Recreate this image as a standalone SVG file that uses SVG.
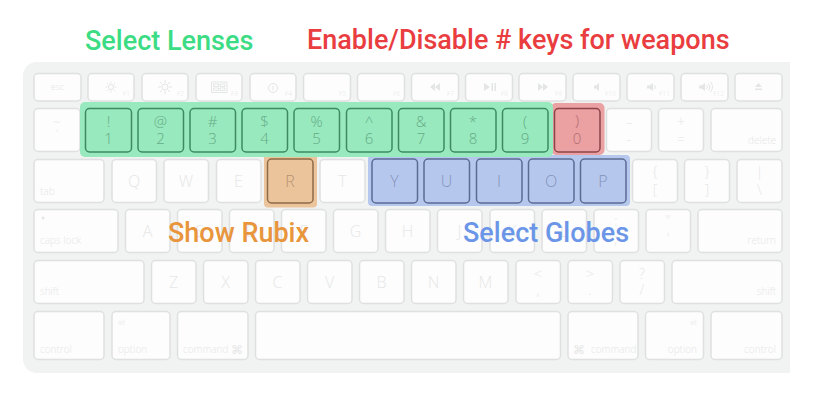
<svg xmlns="http://www.w3.org/2000/svg" width="816" height="400" viewBox="0 0 816 400">
<style>
text{font-family:"Open Sans","Liberation Sans","DejaVu Sans",sans-serif;font-weight:300}
.k{fill:#fdfdfd;stroke:#dfe0e0;stroke-width:1.500}
.t{fill:#e6e7e7;text-anchor:middle;font-size:16px}
.n{fill:#e6e7e7;text-anchor:middle;font-size:14px}
.s{fill:#e6e7e7;font-size:10px}
.e{text-anchor:end}
.f{fill:#e8e9e9;font-size:6.500px;text-anchor:end}
.i{fill:#e4e5e5;stroke:none}
.il{fill:none;stroke:#e4e5e5;stroke-width:1}
.h{font-family:Roboto,"Liberation Sans",sans-serif;font-weight:500;font-size:27px}
.gk{fill:none;stroke:#3d8a62;stroke-width:1.500}
.bk{fill:none;stroke:#5b6b92;stroke-width:1.500}
.ok{fill:none;stroke:#8f6b45;stroke-width:1.500}
.rk{fill:none;stroke:#8b4448;stroke-width:1.500}
.gt{fill:#66ab88;text-anchor:middle;font-size:15px}
.bt{fill:#8494b8;text-anchor:middle;font-size:16px}
.ot{fill:#b5926f;text-anchor:middle;font-size:16px}
.rt{fill:#b06d70;text-anchor:middle;font-size:15px}
</style>
<rect width="816" height="400" fill="#fff"/>
<path id="body" d="M37 62H790V373H37A14 14 0 0 1 23 359V76A14 14 0 0 1 37 62Z" fill="#f1f2f2"/>
<g id="fn-row">
<rect class="k" x="34" y="73.500" width="47" height="27.500" rx="4"/><rect class="k" x="88" y="73.500" width="46" height="27.500" rx="4"/><rect class="k" x="142" y="73.500" width="46" height="27.500" rx="4"/><rect class="k" x="196" y="73.500" width="46" height="27.500" rx="4"/><rect class="k" x="250" y="73.500" width="46" height="27.500" rx="4"/><rect class="k" x="303.500" y="73.500" width="47" height="27.500" rx="4"/><rect class="k" x="357.500" y="73.500" width="47" height="27.500" rx="4"/><rect class="k" x="411.500" y="73.500" width="47" height="27.500" rx="4"/><rect class="k" x="465.500" y="73.500" width="47" height="27.500" rx="4"/><rect class="k" x="519" y="73.500" width="47" height="27.500" rx="4"/><rect class="k" x="573" y="73.500" width="47" height="27.500" rx="4"/><rect class="k" x="627" y="73.500" width="47" height="27.500" rx="4"/><rect class="k" x="681" y="73.500" width="47" height="27.500" rx="4"/><rect class="k" x="735" y="73.500" width="47" height="27.500" rx="4"/>
<text x="57.500" y="90" style="font-size:9px;fill:#e6e7e7;text-anchor:middle">esc</text>
<text class="f" x="130" y="96">F1</text><text class="f" x="184" y="96">F2</text><text class="f" x="238" y="96">F3</text><text class="f" x="292" y="96">F4</text><text class="f" x="346" y="96">F5</text><text class="f" x="400" y="96">F6</text><text class="f" x="454" y="96">F7</text><text class="f" x="508" y="96">F8</text><text class="f" x="562" y="96">F9</text><text class="f" x="616" y="96">F10</text><text class="f" x="670" y="96">F11</text><text class="f" x="724" y="96">F12</text>
<circle class="il" cx="111" cy="87" r="2.500"/><path class="il" d="M111 81.500v2M111 90.500v2M105.500 87h2M114.500 87h2M107 83l1.400 1.400M113.600 89.600l1.400 1.400M107 91l1.400-1.400M113.600 84.400l1.400-1.400"/>
<circle class="il" cx="165" cy="87" r="3"/><path class="il" d="M165 80v3M165 91v3M158 87h3M169 87h3M160 82l2 2M168 90l2 2M160 92l2-2M168 84l2-2"/>
<path class="il" d="M211.500 82h15.500v10.500h-15.500zM213.500 84h5v2.500h-5zM220 84h5v2.500h-5zM213.500 88h5v2.500h-5zM220 88h5v2.500h-5z"/>
<circle class="il" cx="273" cy="88" r="4.500"/><path class="il" d="M273 86v4.500"/>
<path class="i" d="M430 87l5-4v8zM435 87l5-4v8z"/><path class="i" d="M484 83l6 4-6 4zM491.500 83h1.500v8h-1.500zM494.500 83h1.500v8h-1.500z"/><path class="i" d="M538 83l5 4-5 4zM543 83l5 4-5 4z"/>
<path class="i" d="M594 85.500h2l3-2.500v8l-3-2.500h-2z"/><path class="i" d="M647 85.500h2.500l3.500-2.500v8l-3.500-2.500h-2.500z"/><path class="il" d="M654.500 85c1 1.300 1 2.700 0 4"/>
<path class="i" d="M699 85.500h2.500l3.500-2.500v8l-3.500-2.500h-2.500z"/><path class="il" d="M706.500 85c1 1.300 1 2.700 0 4M708.500 83.500c1.800 2.300 1.800 4.700 0 7M710.500 82c2.600 3 2.600 7 0 10"/>
<path class="i" d="M758.500 83l3.500 4h-7zM755 88.500h7v1.500h-7z"/>
</g>
<g id="number-row">
<rect class="k" x="34" y="108.500" width="46" height="43" rx="4"/><rect class="k" x="606.500" y="108.500" width="45" height="43" rx="4"/><rect class="k" x="658.500" y="108.500" width="45" height="43" rx="4"/><rect class="k" x="711" y="108.500" width="71" height="43" rx="4"/>
<text class="n" x="57" y="127">~</text><text class="n" x="57" y="141">`</text>
<text class="n" x="629" y="127">–</text><text class="n" x="629" y="144">-</text>
<text class="n" x="681" y="127">+</text><text class="n" x="681" y="144">=</text>
<text class="s e" x="776" y="144">delete</text>
</g>
<g id="letter-row-1">
<rect class="k" x="34" y="159.500" width="70" height="43" rx="4"/><rect class="k" x="112" y="159.500" width="44.500" height="43" rx="4"/><rect class="k" x="164" y="159.500" width="44.500" height="43" rx="4"/><rect class="k" x="216.500" y="159.500" width="44.500" height="43" rx="4"/><rect class="k" x="320" y="159.500" width="45" height="43" rx="4"/><rect class="k" x="632.500" y="159.500" width="45" height="43" rx="4"/><rect class="k" x="684.500" y="159.500" width="45" height="43" rx="4"/><rect class="k" x="737" y="159.500" width="45" height="43" rx="4"/>
<text class="s" x="40" y="195">tab</text>
<text class="t" x="134" y="187">Q</text><text class="t" x="186" y="187">W</text><text class="t" x="238.500" y="187">E</text><text class="t" x="342.500" y="187">T</text>
<text class="n" x="655" y="177">{</text><text class="n" x="655" y="195">[</text><text class="n" x="707" y="177">}</text><text class="n" x="707" y="195">]</text><text class="n" x="759.500" y="177">|</text><text class="n" x="759.500" y="195">\</text>
</g>
<g id="letter-row-2">
<rect class="k" x="34" y="209.500" width="84" height="43" rx="4"/><rect class="k" x="125.500" y="209.500" width="44.500" height="43" rx="4"/><rect class="k" x="177.500" y="209.500" width="44.500" height="43" rx="4"/><rect class="k" x="229.500" y="209.500" width="44.500" height="43" rx="4"/><rect class="k" x="281.500" y="209.500" width="44.500" height="43" rx="4"/><rect class="k" x="333.500" y="209.500" width="44.500" height="43" rx="4"/><rect class="k" x="385.500" y="209.500" width="44.500" height="43" rx="4"/><rect class="k" x="437.500" y="209.500" width="44.500" height="43" rx="4"/><rect class="k" x="490" y="209.500" width="44.500" height="43" rx="4"/><rect class="k" x="542" y="209.500" width="44.500" height="43" rx="4"/><rect class="k" x="594" y="209.500" width="44.500" height="43" rx="4"/><rect class="k" x="646" y="209.500" width="44.500" height="43" rx="4"/><rect class="k" x="698" y="209.500" width="84" height="43" rx="4"/>
<circle class="i" cx="43" cy="218" r="1.500"/>
<text class="s" x="40" y="244">caps lock</text>
<text class="t" x="147.500" y="237">A</text><text class="t" x="199.500" y="237">S</text><text class="t" x="251.500" y="237">D</text><text class="t" x="303.500" y="237">F</text><text class="t" x="355.500" y="237">G</text><text class="t" x="407.500" y="237">H</text><text class="t" x="459.500" y="237">J</text><text class="t" x="512" y="237">K</text><text class="t" x="564" y="237">L</text>
<text class="n" x="616" y="226">:</text><text class="n" x="616" y="244">;</text><text class="n" x="668" y="226">"</text><text class="n" x="668" y="244">'</text>
<text class="s e" x="776" y="244">return</text>
</g>
<g id="letter-row-3">
<rect class="k" x="34" y="260.500" width="110" height="43" rx="4"/><rect class="k" x="151.500" y="260.500" width="44.500" height="43" rx="4"/><rect class="k" x="203.500" y="260.500" width="44.500" height="43" rx="4"/><rect class="k" x="255.500" y="260.500" width="44.500" height="43" rx="4"/><rect class="k" x="307.500" y="260.500" width="44.500" height="43" rx="4"/><rect class="k" x="359.500" y="260.500" width="44.500" height="43" rx="4"/><rect class="k" x="411.500" y="260.500" width="44.500" height="43" rx="4"/><rect class="k" x="463.500" y="260.500" width="44.500" height="43" rx="4"/><rect class="k" x="516" y="260.500" width="44.500" height="43" rx="4"/><rect class="k" x="568" y="260.500" width="44.500" height="43" rx="4"/><rect class="k" x="620" y="260.500" width="44.500" height="43" rx="4"/><rect class="k" x="672" y="260.500" width="110" height="43" rx="4"/>
<text class="s" x="40" y="295">shift</text><text class="s e" x="776" y="295">shift</text>
<text class="t" x="173.500" y="288">Z</text><text class="t" x="225.500" y="288">X</text><text class="t" x="277.500" y="288">C</text><text class="t" x="329.500" y="288">V</text><text class="t" x="381.500" y="288">B</text><text class="t" x="433.500" y="288">N</text><text class="t" x="485.500" y="288">M</text>
<text class="n" x="538" y="279">&lt;</text><text class="n" x="538" y="295">,</text><text class="n" x="590" y="279">&gt;</text><text class="n" x="590" y="295">.</text><text class="n" x="642" y="279">?</text><text class="n" x="642" y="295">/</text>
</g>
<g id="bottom-row">
<rect class="k" x="34" y="311.500" width="70" height="48" rx="4"/><rect class="k" x="112" y="311.500" width="58" height="48" rx="4"/><rect class="k" x="177.500" y="311.500" width="70.500" height="48" rx="4"/><rect class="k" x="255.500" y="311.500" width="305" height="48" rx="4"/><rect class="k" x="568" y="311.500" width="70" height="48" rx="4"/><rect class="k" x="645.500" y="311.500" width="58" height="48" rx="4"/><rect class="k" x="711" y="311.500" width="71" height="48" rx="4"/>
<text class="s" x="40" y="353">control</text><text x="118" y="325" style="font-size:6.500px;fill:#e6e7e7">alt</text><text class="s" x="118" y="353">option</text><text class="s" x="183" y="353">command</text><text x="231" y="354" style="font-family:'DejaVu Sans',sans-serif;font-size:12px;fill:#e6e7e7">⌘</text>
<text x="573" y="354" style="font-family:'DejaVu Sans',sans-serif;font-size:12px;fill:#e6e7e7">⌘</text><text class="s" x="591" y="353">command</text><text x="697" y="325" class="e" style="font-size:6.500px;fill:#e6e7e7">alt</text><text class="s e" x="697" y="353">option</text><text class="s e" x="776" y="353">control</text>
</g>
<g id="show-rubix-zone">
<rect x="264" y="150" width="53" height="57.500" rx="4" fill="#ebc49c"/>
<rect class="ok" x="267.500" y="159" width="45.500" height="44" rx="4"/>
<text class="ot" x="290" y="187">R</text>
</g>
<g id="select-globes-zone">
<rect x="368" y="155" width="262" height="51" rx="4" fill="#b6c7ee"/>
<rect class="bk" x="372" y="159" width="45.500" height="44" rx="4"/><rect class="bk" x="424" y="159" width="45.500" height="44" rx="4"/><rect class="bk" x="476.500" y="159" width="45.500" height="44" rx="4"/><rect class="bk" x="528.500" y="159" width="45.500" height="44" rx="4"/><rect class="bk" x="580.500" y="159" width="45.500" height="44" rx="4"/>
<text class="bt" x="394.500" y="187">Y</text><text class="bt" x="446.500" y="187">U</text><text class="bt" x="499" y="187">I</text><text class="bt" x="551" y="187">O</text><text class="bt" x="603" y="187">P</text>
</g>
<g id="enable-disable-zone">
<rect x="551" y="103" width="53.500" height="52" rx="5" fill="#eba0a2"/>
<rect class="rk" x="554.500" y="108.500" width="45.500" height="43.500" rx="4"/>
<text class="rt" x="577" y="126">)</text><text class="rt" x="577" y="144">0</text>
</g>
<g id="select-lenses-zone">
<rect x="80" y="102" width="473" height="55" rx="5" fill="#98e9bd"/>
<rect class="gk" x="85.500" y="108.500" width="46" height="43.500" rx="4"/><rect class="gk" x="138" y="108.500" width="45.500" height="43.500" rx="4"/><rect class="gk" x="190" y="108.500" width="45.500" height="43.500" rx="4"/><rect class="gk" x="242" y="108.500" width="45.500" height="43.500" rx="4"/><rect class="gk" x="294" y="108.500" width="45.500" height="43.500" rx="4"/><rect class="gk" x="346.500" y="108.500" width="45.500" height="43.500" rx="4"/><rect class="gk" x="398.500" y="108.500" width="45.500" height="43.500" rx="4"/><rect class="gk" x="450.500" y="108.500" width="45.500" height="43.500" rx="4"/><rect class="gk" x="502.500" y="108.500" width="45.500" height="43.500" rx="4"/>
<text class="gt" x="108.500" y="127">!</text><text class="gt" x="108.500" y="144">1</text><text class="gt" x="160.500" y="127">@</text><text class="gt" x="160.500" y="144">2</text><text class="gt" x="212.500" y="127">#</text><text class="gt" x="212.500" y="144">3</text><text class="gt" x="264.500" y="127">$</text><text class="gt" x="264.500" y="144">4</text><text class="gt" x="316.500" y="127">%</text><text class="gt" x="316.500" y="144">5</text><text class="gt" x="369" y="127">^</text><text class="gt" x="369" y="144">6</text><text class="gt" x="421" y="127">&amp;</text><text class="gt" x="421" y="144">7</text><text class="gt" x="473" y="127">*</text><text class="gt" x="473" y="144">8</text><text class="gt" x="525" y="127">(</text><text class="gt" x="525" y="144">9</text>
</g>
<g id="labels">
<text class="h" x="85" y="50" fill="#3bdc83">Select Lenses</text>
<text class="h" x="307" y="49" fill="#e93d40">Enable/Disable # keys for weapons</text>
<text class="h" x="168" y="242" fill="#e8953c">Show Rubix</text>
<text class="h" x="463" y="242" fill="#6b96e8">Select Globes</text>
</g>
</svg>
